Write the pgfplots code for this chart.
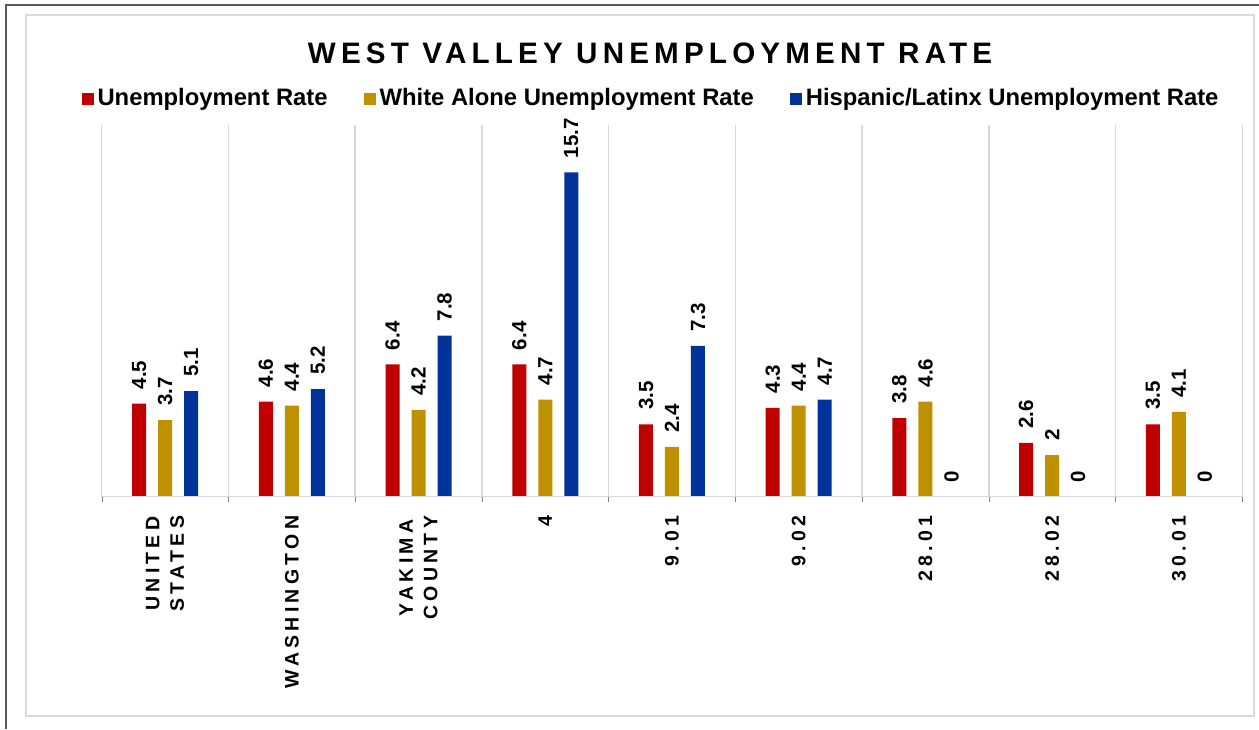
\documentclass[border=0pt]{standalone}
\usepackage{fontspec}
\setmainfont{Liberation Sans}
\newfontfamily\spacedT{Liberation Sans}[LetterSpace=17.5]
\newfontfamily\spacedX{Liberation Sans}[LetterSpace=22]
\usepackage{pgfplots}
\pgfplotsset{compat=1.18}
\definecolor{cRed}{HTML}{C00000}
\definecolor{cGold}{HTML}{BF9000}
\definecolor{cBlue}{HTML}{003399}
\definecolor{cGrid}{HTML}{D9D9D9}
\definecolor{cFrame}{HTML}{595959}
\begin{document}
\begin{tikzpicture}
\path[use as bounding box] (0,0) rectangle (629.5pt,364.5pt);
\draw[cFrame, line width=1pt] (2.75pt,0) -- (2.75pt,362pt) -- (629.5pt,362pt);
\draw[cGrid, line width=0.75pt] (13pt,6.5pt) rectangle (627pt,357pt);
\node[anchor=base, inner sep=0pt, font=\spacedT\bfseries\fontsize{14.8}{17}\selectfont] at (325pt,332.9pt) {WEST VALLEY UNEMPLOYMENT RATE};
\begin{axis}[
  at={(50.85pt,116.25pt)}, anchor=south west,
  scale only axis, width=570.3pt, height=185.75pt,
  xmin=-0.5, xmax=8.5, ymin=0, ymax=18,
  ybar, bar width=7pt, axis on top,
  axis x line*=bottom, axis y line=none,
  x axis line style={cGrid, line width=0.9pt, -},
  xtick={0,...,8}, major tick length=0pt,
  xticklabels={{UNITED\\STATES},WASHINGTON,{YAKIMA\\COUNTY},4,9.01,9.02,28.01,28.02,30.01},
  xticklabel style={rotate=90, anchor=east, align=center, inner sep=0pt, font=\spacedX\bfseries\fontsize{9.75}{12.25}\selectfont},
  xticklabel shift=9.5pt,
  minor xtick={-0.5,0.5,...,8.5}, xminorgrids, minor grid style={cGrid, line width=0.75pt},
  /pgf/number format/assume math mode=true,
  nodes near coords,
  every node near coord/.append style={rotate=90, anchor=west, inner xsep=7pt, inner ysep=0pt, text=black, font=\bfseries\fontsize{10.25}{12}\selectfont},
  legend columns=3,
  legend style={at={(axis description cs:0.4825,1.0713)}, anchor=center, draw=none, fill=none, inner sep=0pt,
    font=\bfseries\fontsize{11.9}{14}\selectfont, /tikz/every even column/.append style={column sep=16pt}},
]
\addplot[fill=cRed, draw=none, bar shift=-13pt, legend image code/.code={\fill[cRed] (0pt,-3pt) rectangle (6pt,3pt);}] coordinates {(0,4.5) (1,4.6) (2,6.4) (3,6.4) (4,3.5) (5,4.3) (6,3.8) (7,2.6) (8,3.5)};
\addlegendentry{Unemployment Rate}
\addplot[fill=cGold, draw=none, bar shift=0pt, legend image code/.code={\fill[cGold] (0pt,-3pt) rectangle (6pt,3pt);}] coordinates {(0,3.7) (1,4.4) (2,4.2) (3,4.7) (4,2.4) (5,4.4) (6,4.6) (7,2) (8,4.1)};
\addlegendentry{White Alone Unemployment Rate}
\addplot[fill=cBlue, draw=none, bar shift=13pt, legend image code/.code={\fill[cBlue] (0pt,-3pt) rectangle (6pt,3pt);}] coordinates {(0,5.1) (1,5.2) (2,7.8) (3,15.7) (4,7.3) (5,4.7) (6,0) (7,0) (8,0)};
\addlegendentry{Hispanic/Latinx Unemployment Rate}
\end{axis}
\end{tikzpicture}
\end{document}
